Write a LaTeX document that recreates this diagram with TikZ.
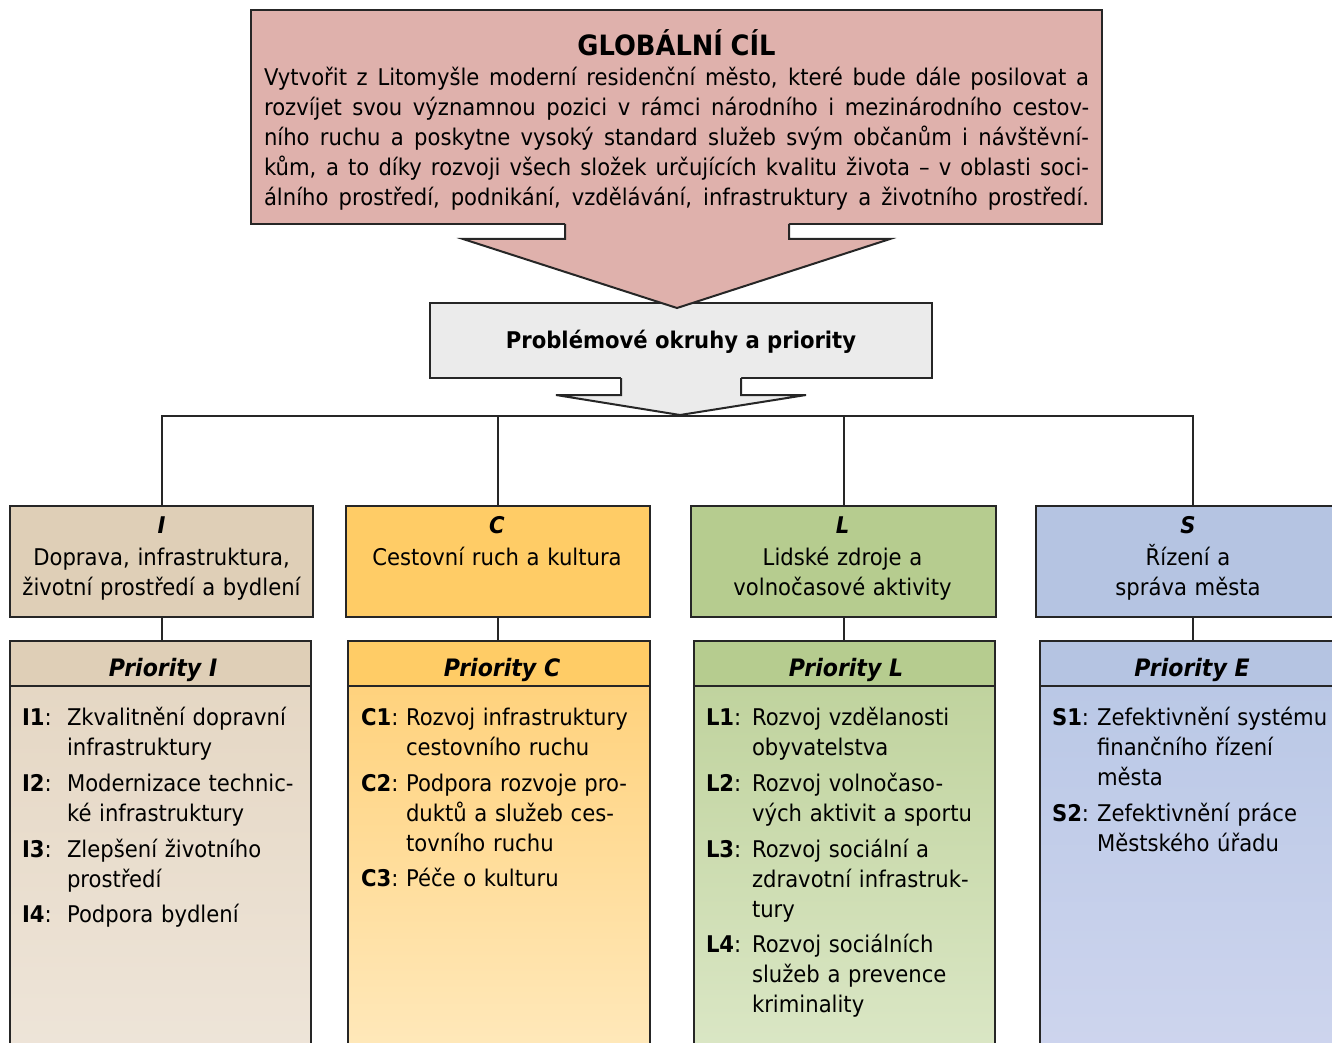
\documentclass[tikz,border=0pt]{standalone}
\usepackage{fontspec}
\setmainfont{DejaVu Sans}[FakeStretch=0.92]
\usetikzlibrary{positioning}

\newcommand{\jline}[1]{\leavevmode\hbox to 412.5pt{\spaceskip=\fontdimen2\font plus 1fil minus 0.25em\relax #1}}

\begin{document}
\begin{tikzpicture}[x=0.5pt,y=-0.5pt]
	\tikzstyle{every node}=[inner sep=0pt,outer sep=0pt,font=\fontsize{11.5}{15}\selectfont]
	\tikzstyle{box}=[draw=black!85,line width=1pt,rectangle]
	\tikzstyle{ttl}=[anchor=base,text width=150pt,align=center]
	\tikzstyle{lab}=[anchor=base west]
	\tikzstyle{txt}=[anchor=base west,text width=125pt,align=left]
	\tikzstyle{hdr}=[anchor=base,font=\fontsize{12}{15}\selectfont\bfseries\itshape]
	
	\definecolor{cGoal}{RGB}{223,177,172}
	\definecolor{cProb}{RGB}{235,235,235}
	\definecolor{cI}{RGB}{223,207,183}
	\definecolor{cIa}{RGB}{229,215,196}
	\definecolor{cIb}{RGB}{238,229,217}
	\definecolor{cC}{RGB}{255,204,102}
	\definecolor{cCa}{RGB}{255,210,125}
	\definecolor{cCb}{RGB}{255,233,188}
	\definecolor{cL}{RGB}{182,204,143}
	\definecolor{cLa}{RGB}{192,211,158}
	\definecolor{cLb}{RGB}{219,231,198}
	\definecolor{cS}{RGB}{181,196,226}
	\definecolor{cSa}{RGB}{186,200,230}
	\definecolor{cSb}{RGB}{206,213,238}
	
	\useasboundingbox (0,0) rectangle (1332,1043);
	\clip (0,0) rectangle (1332,1043);
	
	%% global goal
	\node [box,fill=cGoal,minimum width=425.5pt,minimum height=107pt] (goal) at (676.5,117) {};
	\node [anchor=base,text width=412.5pt,align=center] (goaltxt) at (676.5,56) {%
		{\fontsize{14}{15.5}\selectfont\bfseries GLOBÁLNÍ CÍL}\\
		\jline{Vytvořit z Litomyšle moderní residenční město, které bude dále posilovat a}\\
		\jline{rozvíjet svou významnou pozici v rámci národního i mezinárodního cestov-}\\
		\jline{ního ruchu a poskytne vysoký standard služeb svým občanům i návštěvní-}\\
		\jline{kům, a to díky rozvoji všech složek určujících kvalitu života -- v oblasti soci-}\\
		\jline{álního prostředí, podnikání, vzdělávání, infrastruktury a životního prostředí.}};
	
	%% problem areas
	\node [box,fill=cProb,minimum width=251pt,minimum height=37.5pt] (prob) at (681,340.5) {};
	\node [anchor=base] (probtxt) at (681,348) {\bfseries Problémové okruhy a priority};
	
	%% big arrows
	\fill [cGoal] (565,222) -- (565,239) -- (463,239) -- (677,308) -- (890,239) -- (789,239) -- (789,222) -- cycle;
	\draw [black!85,line width=1pt,line join=miter] (565,224) -- (565,239) -- (463,239) -- (677,308) -- (890,239) -- (789,239) -- (789,224);
	\fill [cProb] (621,376) -- (621,395) -- (556,395) -- (680,415) -- (806,395) -- (741,395) -- (741,376) -- cycle;
	\draw [black!85,line width=1pt,line join=miter] (621,378) -- (621,395) -- (556,395) -- (680,415) -- (806,395) -- (741,395) -- (741,378);
	
	%% areas
	\node [box,fill=cI,minimum width=151.5pt,minimum height=55.5pt] (catI) at (161.5,561.5) {};
	\node [box,fill=cC,minimum width=152pt,minimum height=55.5pt] (catC) at (497.5,561.5) {};
	\node [box,fill=cL,minimum width=152.5pt,minimum height=55.5pt] (catL) at (843.5,561.5) {};
	\node [box,fill=cS,minimum width=157pt,minimum height=55.5pt] (catS) at (1193,561.5) {};
	\node [ttl] (catItxt) at (161.5,533) {\bfseries\itshape I\\[1pt]\mdseries\upshape Doprava, infrastruktura,\\životní prostředí a bydlení};
	\node [ttl] (catCtxt) at (497,533) {\bfseries\itshape C\\[1pt]\mdseries\upshape Cestovní ruch a kultura};
	\node [ttl] (catLtxt) at (842.5,533) {\bfseries\itshape L\\[1pt]\mdseries\upshape Lidské zdroje a\\volnočasové aktivity};
	\node [ttl] (catStxt) at (1188,533) {\bfseries\itshape S\\[1pt]\mdseries\upshape Řízení a\\správa města};
	
	%% connectors
	\coordinate (bar) at (680,416);
	\draw [black!85,line width=1pt] (catI.north) |- (bar) -| (catS.north);
	\draw [black!85,line width=1pt] (catC.north) -- (catC.north |- bar);
	\draw [black!85,line width=1pt] (catL.north) -- (catL.north |- bar);
	
	%% priorities
	\node [box,fill=cI,minimum width=150.5pt,minimum height=22.5pt] (prI) at (160.5,663.5) {};
	\node [box,fill=cC,minimum width=151pt,minimum height=22.5pt] (prC) at (499,663.5) {};
	\node [box,fill=cL,minimum width=150.5pt,minimum height=22.5pt] (prL) at (844.5,663.5) {};
	\node [box,fill=cS,minimum width=153pt,minimum height=22.5pt] (prS) at (1193,663.5) {};
	\draw [black!85,line width=1pt,top color=cIa,bottom color=cIb] (prI.south west) rectangle (prI.east |- 0,1060);
	\draw [black!85,line width=1pt,top color=cCa,bottom color=cCb] (prC.south west) rectangle (prC.east |- 0,1060);
	\draw [black!85,line width=1pt,top color=cLa,bottom color=cLb] (prL.south west) rectangle (prL.east |- 0,1060);
	\draw [black!85,line width=1pt,top color=cSa,bottom color=cSb] (prS.south west) rectangle (prS.east |- 0,1060);
	\node [hdr] (prItxt) at (163,676) {Priority I};
	\node [hdr] (prCtxt) at (502,676) {Priority C};
	\node [hdr] (prLtxt) at (846,676) {Priority L};
	\node [hdr] (prStxt) at (1192,676) {Priority E};
	\draw [black!85,line width=1pt] (catI.south) -- (catI.south |- prI.north);
	\draw [black!85,line width=1pt] (catC.south) -- (catC.south |- prC.north);
	\draw [black!85,line width=1pt] (catL.south) -- (catL.south |- prL.north);
	\draw [black!85,line width=1pt] (catS.south) -- (catS.south |- prS.north);
	
	%% priority items
	\node [lab] (i1) at (22,725) {\textbf{I1}:};
	\node [txt] (i1t) at (67,725) {Zkvalitnění dopravní\\infrastruktury};
	\node [lab] (i2) at (22,791) {\textbf{I2}:};
	\node [txt] (i2t) at (67,791) {Modernizace technic-\\ké infrastruktury};
	\node [lab] (i3) at (22,857) {\textbf{I3}:};
	\node [txt] (i3t) at (67,857) {Zlepšení životního\\prostředí};
	\node [lab] (i4) at (22,922) {\textbf{I4}:};
	\node [txt] (i4t) at (67,922) {Podpora bydlení};
	
	\node [lab] (c1) at (361,725) {\textbf{C1}:};
	\node [txt] (c1t) at (406,725) {Rozvoj infrastruktury\\cestovního ruchu};
	\node [lab] (c2) at (361,791) {\textbf{C2}:};
	\node [txt] (c2t) at (406,791) {Podpora rozvoje pro-\\duktů a služeb ces-\\tovního ruchu};
	\node [lab] (c3) at (361,886) {\textbf{C3}:};
	\node [txt] (c3t) at (406,886) {Péče o kulturu};
	
	\node [lab] (l1) at (706,725) {\textbf{L1}:};
	\node [txt] (l1t) at (752,725) {Rozvoj vzdělanosti\\obyvatelstva};
	\node [lab] (l2) at (706,791) {\textbf{L2}:};
	\node [txt] (l2t) at (752,791) {Rozvoj volnočaso-\\vých aktivit a sportu};
	\node [lab] (l3) at (706,857) {\textbf{L3}:};
	\node [txt] (l3t) at (752,857) {Rozvoj sociální a\\zdravotní infrastruk-\\tury};
	\node [lab] (l4) at (706,952) {\textbf{L4}:};
	\node [txt] (l4t) at (752,952) {Rozvoj sociálních\\služeb a prevence\\kriminality};
	
	\node [lab] (s1) at (1052,725) {\textbf{S1}:};
	\node [txt] (s1t) at (1097,725) {Zefektivnění systému\\finančního řízení\\města};
	\node [lab] (s2) at (1052,821) {\textbf{S2}:};
	\node [txt] (s2t) at (1097,821) {Zefektivnění práce\\Městského úřadu};

\end{tikzpicture}
\end{document}
